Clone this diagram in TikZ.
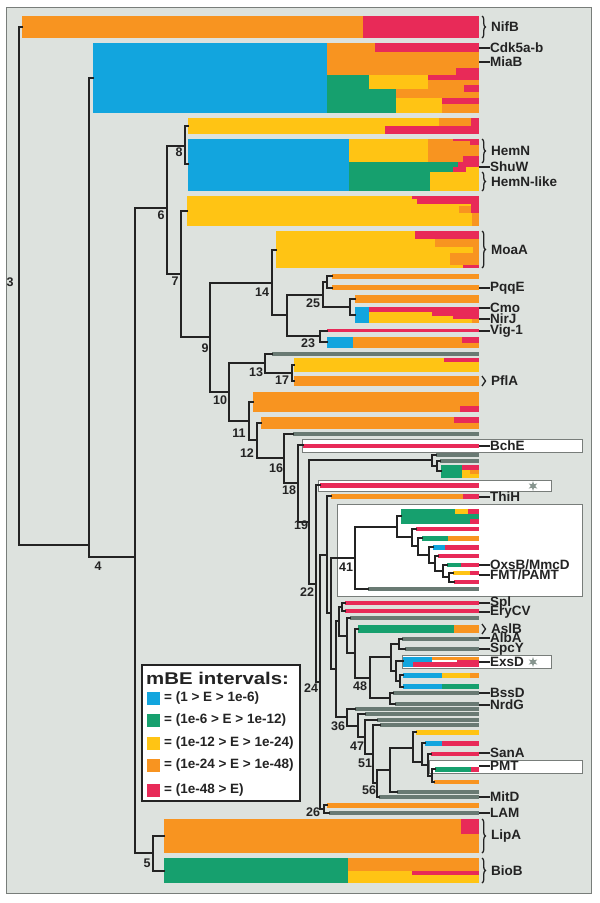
\documentclass[tikz,border=0pt]{standalone}
\usepackage{fontspec}
\setmainfont{Liberation Sans}
\usetikzlibrary{decorations.pathreplacing,shapes.geometric}
\definecolor{cBlue}{RGB}{18,165,222}
\definecolor{cGreen}{RGB}{22,160,110}
\definecolor{cYellow}{RGB}{255,196,20}
\definecolor{cOrange}{RGB}{248,148,32}
\definecolor{cRed}{RGB}{232,42,88}
\definecolor{cGray}{RGB}{105,122,115}
\definecolor{bgC}{RGB}{221,226,222}
\definecolor{frameC}{RGB}{120,125,122}
\definecolor{ink}{RGB}{35,35,35}
\newcommand{\TRnode}[5]{\draw[tree] (#3,#2) -- (#1,#2) -- (#1,#4) -- (#5,#4);}
\newcommand{\BRbar}[5]{\fill[#1] (#2,#3) rectangle (#4,#5);}
\newcommand{\GRbar}[2]{\draw[gbar] (#1,#2) -- (479,#2);}
\newcommand{\LBline}[3]{\draw[tree] (480,#1) -- (489,#1); \node[lab] (#3) at (490,#1) {#2};}
\newcommand{\LBbrace}[4]{\draw[brc] (482,#1) -- (482,#2); \node[lab] (#4) at (491,{(#1+#2)/2}) {#3};}
\newcommand{\NUM}[4]{\node[num] (#1) at (#2,#3) {#4};}
\begin{document}
\begin{tikzpicture}[x=1pt,y=-1pt,
  tree/.style={draw=ink,line width=1.4pt,line cap=rect},
  gbar/.style={draw=cGray,line width=3.6pt},
  brc/.style={draw=ink,line width=1.3pt,decorate,decoration={brace,amplitude=3.5pt}},
  lab/.style={anchor=west,font=\bfseries\fontsize{13.5}{14}\selectfont,text=ink,inner sep=0pt},
  num/.style={font=\bfseries\fontsize{12.5}{13}\selectfont,text=ink,inner sep=0pt},
  wbox/.style={fill=white,draw=frameC,line width=0.9pt},
  astk/.style={star,star points=6,star point ratio=2.4,fill=cGray!80,inner sep=0pt,minimum size=10pt}]
\useasboundingbox (0,0) rectangle (600,903);
\fill[white] (0,0) rectangle (600,903);
\fill[bgC] (6,7) rectangle (591,893);
\draw[frameC,line width=1pt] (6,7) rectangle (591,893);
% white boxes
\draw[wbox] (302,439) rectangle (582,452);
\draw[wbox] (318,480) rectangle (551,491);
\draw[wbox] (337,504) rectangle (582,596);
\draw[wbox] (402,655) rectangle (551,668);
\draw[wbox] (429,760) rectangle (582,773);
% NifB
\BRbar{cOrange}{22}{16}{363}{38}
\BRbar{cRed}{363}{16}{479}{38}
% MiaB cluster
\BRbar{cBlue}{93}{43}{327}{113}
\BRbar{cOrange}{327}{43}{375}{52}
\BRbar{cRed}{375}{43}{479}{52}
\BRbar{cOrange}{327}{52}{479}{75}
\BRbar{cRed}{456}{68}{479}{75}
\BRbar{cGreen}{327}{75}{369}{89}
\BRbar{cGreen}{327}{89}{396}{113}
\BRbar{cYellow}{369}{75}{428}{89}
\BRbar{cRed}{428}{75}{479}{80}
\BRbar{cOrange}{428}{80}{479}{89}
\BRbar{cOrange}{396}{89}{479}{98}
\BRbar{cRed}{464}{85}{479}{92}
\BRbar{cYellow}{396}{98}{442}{113}
\BRbar{cRed}{442}{98}{479}{104}
\BRbar{cOrange}{442}{104}{479}{113}
% yellow pair
\BRbar{cYellow}{188}{118}{479}{134}
\BRbar{cOrange}{439}{118}{471}{126}
\BRbar{cRed}{471}{118}{479}{134}
\BRbar{cRed}{385}{126}{479}{134}
% HemN cluster
\BRbar{cBlue}{188}{139}{349}{191}
\BRbar{cYellow}{349}{139}{428}{162}
\BRbar{cOrange}{428}{139}{479}{162}
\BRbar{cRed}{453}{139}{470}{141}
\BRbar{cRed}{470}{139}{479}{145}
\BRbar{cRed}{463}{156}{479}{162}
\BRbar{cGreen}{349}{162}{458}{172}
\BRbar{cRed}{458}{162}{479}{167}
\BRbar{cRed}{453}{167}{466}{172}
\BRbar{cYellow}{466}{167}{479}{172}
\BRbar{cGreen}{349}{172}{430}{191}
\BRbar{cYellow}{430}{172}{479}{191}
% big yellow
\BRbar{cYellow}{187}{196}{479}{226}
\BRbar{cRed}{412}{196}{479}{199}
\BRbar{cRed}{417}{199}{479}{204}
\BRbar{cRed}{471}{204}{479}{213}
\BRbar{cOrange}{459}{206}{471}{213}
\BRbar{cOrange}{472}{213}{479}{226}
% MoaA
\BRbar{cYellow}{276}{231}{479}{268}
\BRbar{cRed}{415}{231}{479}{239}
\BRbar{cOrange}{435}{239}{479}{247}
\BRbar{cOrange}{473}{247}{479}{253}
\BRbar{cOrange}{450}{253}{479}{265}
\BRbar{cRed}{463}{265}{479}{268}
% PqqE
\BRbar{cOrange}{332}{274}{479}{279}
\BRbar{cOrange}{332}{285}{479}{290}
% Cmo / NirJ
\BRbar{cOrange}{355}{295}{479}{303}
\BRbar{cBlue}{355}{307}{369}{323}
\BRbar{cYellow}{369}{307}{479}{323}
\BRbar{cRed}{369}{307}{479}{312}
\BRbar{cRed}{432}{312}{479}{316}
\BRbar{cRed}{453}{316}{479}{319}
\BRbar{cOrange}{472}{319}{479}{323}
% Vig-1 / 23
\BRbar{cRed}{327}{329}{479}{332}
\BRbar{cBlue}{327}{337}{353}{348}
\BRbar{cOrange}{353}{337}{479}{348}
\BRbar{cRed}{462}{337}{479}{343}
% 13 / 17
\GRbar{272}{354}
\BRbar{cYellow}{294}{358}{479}{372}
\BRbar{cRed}{444}{358}{479}{362}
\BRbar{cOrange}{294}{376}{479}{386}
% 11 / 12
\BRbar{cOrange}{253}{392}{479}{412}
\BRbar{cRed}{460}{406}{479}{412}
\BRbar{cOrange}{261}{417}{479}{429}
\BRbar{cRed}{454}{417}{479}{423}
\GRbar{293}{434}
% BchE
\BRbar{cRed}{303}{443.5}{479}{447.5}
% cluster A
\GRbar{436}{455}
\GRbar{440}{461}
\BRbar{cGreen}{441}{465}{462}{478}
\BRbar{cRed}{462}{465}{479}{470}
\BRbar{cYellow}{462}{470}{479}{478}
\BRbar{cOrange}{470}{470}{479}{474}
% star bar
\BRbar{cRed}{320}{483}{479}{488}
% ThiH
\BRbar{cOrange}{331}{494}{479}{499}
\BRbar{cRed}{463}{494}{479}{499}
% box 41
\BRbar{cGreen}{401}{509}{479}{524}
\BRbar{cYellow}{455}{509}{468}{514}
\BRbar{cRed}{468}{509}{479}{514}
\BRbar{cRed}{470}{519}{479}{524}
\BRbar{cRed}{416}{527}{479}{531}
\BRbar{cGreen}{422}{536}{448}{541}
\BRbar{cOrange}{448}{536}{479}{541}
\BRbar{cBlue}{433}{545}{445}{550}
\BRbar{cRed}{445}{545}{479}{550}
\BRbar{cRed}{438}{554}{479}{558}
\BRbar{cGreen}{447}{563}{461}{567}
\BRbar{cRed}{461}{563}{479}{567}
\BRbar{cYellow}{453}{571}{470}{575}
\BRbar{cRed}{470}{571}{479}{575}
\BRbar{cRed}{454}{580}{479}{584}
\GRbar{368}{589}
% Spl EryCV
\BRbar{cRed}{345}{601}{479}{605}
\BRbar{cRed}{345}{609}{479}{613}
\GRbar{350}{618}
% AslB
\BRbar{cGreen}{358}{625}{454}{633}
\BRbar{cOrange}{454}{625}{479}{633}
\GRbar{402}{639}
\GRbar{405}{649}
% ExsD
\BRbar{cBlue}{403}{657}{432}{662}
\BRbar{cOrange}{432}{657}{479}{660}
\BRbar{cRed}{457}{660}{479}{662}
\BRbar{cBlue}{403}{662}{413}{667}
\BRbar{cRed}{413}{662}{479}{667}
\BRbar{cBlue}{403}{673}{442}{678}
\BRbar{cYellow}{442}{673}{470}{678}
\BRbar{cOrange}{470}{673}{479}{678}
\BRbar{cBlue}{403}{684}{442}{689}
\BRbar{cGreen}{442}{684}{479}{689}
\GRbar{393}{693}
\GRbar{395}{704}
% 36 group
\GRbar{355}{709}
\GRbar{365}{714}
\GRbar{377}{720}
\GRbar{380}{725}
\BRbar{cYellow}{416}{730}{479}{735}
\BRbar{cBlue}{425}{741}{442}{746}
\BRbar{cRed}{442}{741}{479}{746}
\BRbar{cRed}{431}{752}{479}{756}
\BRbar{cGreen}{435}{767}{471}{772}
\BRbar{cRed}{471}{767}{479}{772}
\BRbar{cOrange}{434}{780}{479}{784}
\GRbar{397}{792}
\GRbar{379}{797}
% LAM
\BRbar{cOrange}{327}{803}{479}{808}
\GRbar{329}{813}
% LipA BioB
\BRbar{cOrange}{164}{819}{479}{853}
\BRbar{cRed}{461}{819}{479}{834}
\BRbar{cGreen}{164}{858}{348}{883}
\BRbar{cOrange}{348}{858}{479}{871}
\BRbar{cYellow}{348}{871}{479}{883}
\BRbar{cRed}{412}{871}{479}{875}
% ---------- tree ----------
\TRnode{19}{27}{22}{545}{89}
\TRnode{89}{78}{93}{557}{135}
\TRnode{135}{208}{167}{853}{153}
\TRnode{153}{836}{164}{871}{164}
\TRnode{167}{146}{185}{274}{181}
\TRnode{185}{126}{188}{164}{188}
\TRnode{181}{211}{187}{337}{210}
\TRnode{210}{283}{272}{392}{229}
\TRnode{272}{250}{276}{315}{287}
\TRnode{287}{295}{323}{336}{320}
\TRnode{323}{282}{327}{307}{350}
\TRnode{327}{276}{332}{288}{332}
\TRnode{350}{299}{355}{315}{355}
\TRnode{320}{331}{327}{342}{327}
\TRnode{229}{363}{265}{421}{249}
\TRnode{265}{354}{272}{373}{292}
\TRnode{292}{365}{294}{381}{294}
\TRnode{249}{402}{253}{440}{257}
\TRnode{257}{423}{261}{458}{284}
\TRnode{284}{434}{293}{483}{298}
\TRnode{298}{445}{303}{522}{309}
\TRnode{309}{460}{432}{584}{316}
\TRnode{432}{455}{436}{466}{437}
\TRnode{437}{461}{440}{471}{441}
\TRnode{316}{485}{320}{682}{320}
\TRnode{320}{555}{327}{809}{324}
\TRnode{324}{805}{327}{813}{329}
\TRnode{327}{496}{331}{613}{331}
\TRnode{331}{558}{355}{669}{336}
\TRnode{355}{527}{397}{589}{368}
\TRnode{397}{516}{401}{537}{412}
\TRnode{412}{529}{416}{546}{418}
\TRnode{418}{538}{422}{555}{429}
\TRnode{429}{547}{433}{563}{435}
\TRnode{435}{556}{438}{571}{443}
\TRnode{443}{565}{447}{577}{449}
\TRnode{449}{573}{453}{582}{454}
\TRnode{336}{621}{339}{717}{347}
\TRnode{339}{607}{342}{636}{347}
\TRnode{342}{603}{345}{611}{345}
\TRnode{347}{618}{350}{653}{355}
\TRnode{355}{629}{358}{678}{370}
\TRnode{370}{657}{391}{698}{390}
\TRnode{391}{644}{399}{671}{396}
\TRnode{399}{639}{402}{649}{405}
\TRnode{396}{661}{403}{681}{400}
\TRnode{400}{675}{403}{687}{403}
\TRnode{390}{693}{393}{704}{395}
\TRnode{347}{709}{355}{726}{358}
\TRnode{358}{714}{365}{737}{365}
\TRnode{365}{720}{377}{754}{373}
\TRnode{373}{725}{380}{783}{377}
\TRnode{377}{770}{390}{797}{379}
\TRnode{390}{748}{413}{792}{397}
\TRnode{413}{732}{416}{762}{422}
\TRnode{422}{743}{425}{765}{428}
\TRnode{428}{754}{431}{776}{432}
\TRnode{432}{769}{435}{782}{434}
% node numbers
\NUM{n3}{10}{282}{3}
\NUM{n4}{98}{566}{4}
\NUM{n5}{147}{863}{5}
\NUM{n6}{161}{215}{6}
\NUM{n7}{175}{281}{7}
\NUM{n8}{179}{152}{8}
\NUM{n9}{205}{348}{9}
\NUM{n10}{220}{400}{10}
\NUM{n11}{239}{433}{11}
\NUM{n12}{247}{453}{12}
\NUM{n13}{256}{372}{13}
\NUM{n14}{262}{292}{14}
\NUM{n16}{276}{468}{16}
\NUM{n17}{282}{380}{17}
\NUM{n18}{289}{490}{18}
\NUM{n19}{301}{525}{19}
\NUM{n22}{307}{592}{22}
\NUM{n23}{308}{343}{23}
\NUM{n24}{311}{688}{24}
\NUM{n25}{313}{303}{25}
\NUM{n26}{313}{812}{26}
\NUM{n36}{338}{726}{36}
\NUM{n41}{346}{567}{41}
\NUM{n47}{357}{746}{47}
\NUM{n48}{360}{686}{48}
\NUM{n51}{365}{763}{51}
\NUM{n56}{369}{790}{56}
% right labels
\LBbrace{16}{38}{NifB}{lNifB}
\LBline{48}{Cdk5a-b}{lCdk}
\LBline{62}{MiaB}{lMiaB}
\LBbrace{139}{163}{HemN}{lHemN}
\LBline{167}{ShuW}{lShuW}
\LBbrace{172}{191}{HemN-like}{lHemNl}
\LBbrace{231}{268}{MoaA}{lMoaA}
\LBline{288}{PqqE}{lPqqE}
\LBline{308}{Cmo}{lCmo}
\LBline{319}{NirJ}{lNirJ}
\LBline{331}{Vig-1}{lVig}
\LBbrace{376}{386}{PflA}{lPflA}
\LBline{446}{BchE}{lBchE}
\LBline{497}{ThiH}{lThiH}
\LBline{565}{OxsB/MmcD}{lOxsB}
\LBline{575}{FMT/PAMT}{lFMT}
\LBline{603}{Spl}{lSpl}
\LBline{612}{EryCV}{lEry}
\LBbrace{624}{634}{AslB}{lAslB}
\LBline{638}{AlbA}{lAlbA}
\LBline{649}{SpcY}{lSpcY}
\LBline{662}{ExsD}{lExsD}
\LBline{693}{BssD}{lBssD}
\LBline{705}{NrdG}{lNrdG}
\LBline{753}{SanA}{lSanA}
\LBline{766}{PMT}{lPMT}
\LBline{797}{MitD}{lMitD}
\LBline{813}{LAM}{lLAM}
\LBbrace{819}{853}{LipA}{lLipA}
\LBbrace{858}{883}{BioB}{lBioB}
\node[astk] (st1) at (533,486) {};
\node[astk] (st2) at (533,662) {};
% legend
\draw[fill=white,draw=ink,line width=1.5pt] (142,665) rectangle (300,801);
\node[anchor=west,font=\bfseries\fontsize{17}{18}\selectfont\addfontfeature{FakeStretch=1.2},text=ink,inner sep=0pt] (ltitle) at (146,678) {mBE intervals:};
\foreach \yy/\cc/\tt [count=\i] in {698/cBlue/{= (1 > E > 1e-6)},720/cGreen/{= (1e-6 > E > 1e-12)},743/cYellow/{= (1e-12 > E > 1e-24)},765/cOrange/{= (1e-24 > E > 1e-48)},790/cRed/{= (1e-48 > E)}}{
  \fill[\cc] (147,\yy-6.5) rectangle (160,\yy+6.5);
  \node[anchor=west,font=\bfseries\fontsize{13.5}{14}\selectfont,text=ink,inner sep=0pt] (leg\i) at (164,\yy) {\tt};
}
\end{tikzpicture}
\end{document}
